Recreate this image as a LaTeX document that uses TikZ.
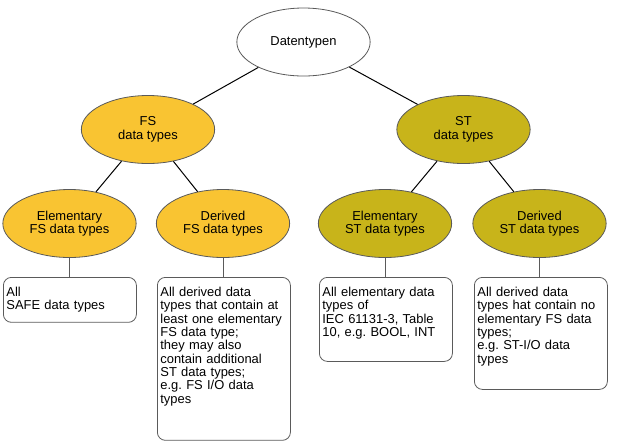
\documentclass[tikz,border=0pt]{standalone}
\usepackage{fontspec}
\setmainfont{Liberation Sans}
\usetikzlibrary{shapes.geometric}
\frenchspacing
\definecolor{fsyellow}{RGB}{249,196,50}
\definecolor{stolive}{RGB}{200,180,26}
\definecolor{rimgray}{RGB}{90,90,90}
\tikzset{
    typenode/.style={ellipse, draw=rimgray, line width=0.6pt, minimum width=100pt,
        minimum height=51pt, inner sep=0pt, align=center,
        font=\fontsize{9.7}{10.2}\selectfont},
    infobox/.style={draw=rimgray, line width=0.6pt, rounded corners=6pt, anchor=north west,
        text width=95.25pt, inner xsep=2.25pt, inner ysep=3pt, align=left,
        text height=11.4pt, font=\fontsize{9.7}{10}\selectfont},
    link/.style={draw=black, line width=0.75pt}
}
\begin{document}
\begin{tikzpicture}[x=0.75pt, y=-0.75pt]
    \useasboundingbox (0,0) rectangle (619,444);
    \node[typenode, fill=white] (top) at (303.5,42) {Datentypen};
    \node[typenode, fill=fsyellow] (fs) at (148,129.5) {FS\\data types};
    \node[typenode, fill=stolive] (st) at (463.5,129.5) {ST\\data types};
    \node[typenode, fill=fsyellow] (efs) at (69.5,223.5) {Elementary\\FS data types};
    \node[typenode, fill=fsyellow] (dfs) at (223,223.5) {Derived\\FS data types};
    \node[typenode, fill=stolive] (est) at (385,223.5) {Elementary\\ST data types};
    \node[typenode, fill=stolive] (dst) at (539.5,223.5) {Derived\\ST data types};
    \node[infobox, text depth=16.3pt] (b1) at (3,277) {All\\SAFE data types};
    \node[infobox, text depth=104.8pt] (b2) at (157,277)
        {All derived data\\types that contain at\\least one elementary\\FS data type;\\they may also\\contain additional\\ST data types;\\e.g. FS I/O data\\types};
    \node[infobox, text depth=45.6pt] (b3) at (319,277)
        {All elementary data\\types of\\IEC 61131-3, Table\\10, e.g. BOOL, INT};
    \node[infobox, text depth=66.6pt] (b4) at (474,277)
        {All derived data\\types hat contain no\\elementary FS data\\types;\\e.g. ST-I/O data\\types};
    \foreach \p/\c in {top/fs, top/st, fs/efs, fs/dfs, st/est, st/dst} {
        \draw[link] (\p) -- (\c);
    }
    \foreach \e/\b in {efs/b1, dfs/b2, est/b3, dst/b4} {
        \draw[link, draw=rimgray] (\e.south) -- (\e.south |- \b.north);
    }
\end{tikzpicture}
\end{document}
